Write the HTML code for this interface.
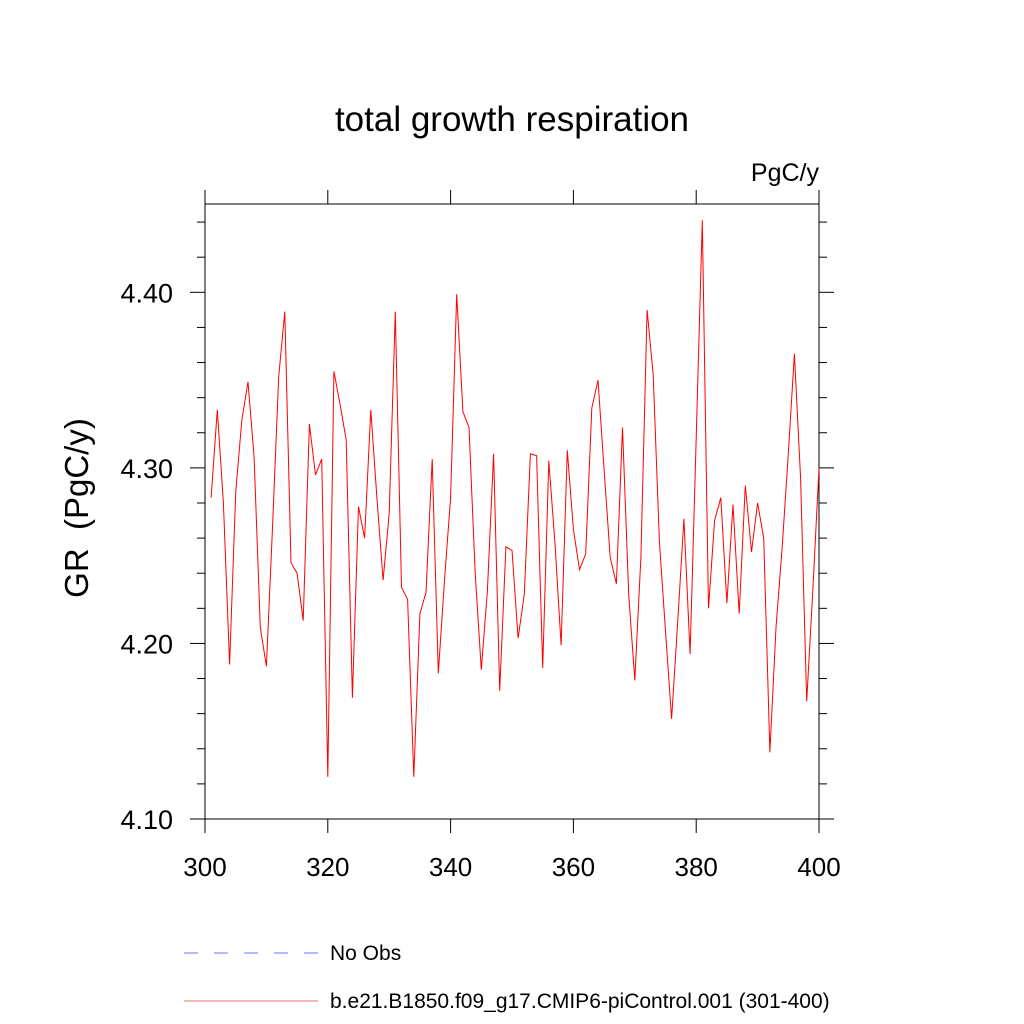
<!DOCTYPE html>
<html><head><meta charset="utf-8"><style>
html,body{margin:0;padding:0;background:#fff;}
svg{display:block;font-family:"Liberation Sans",sans-serif;}
</style></head><body>
<svg id="chart" width="1024" height="1024" viewBox="0 0 1024 1024">
<text x="512" y="131" font-size="35" text-anchor="middle">total growth respiration</text>
<text x="819" y="181" font-size="25" text-anchor="end">PgC/y</text>
<text transform="translate(88,508) rotate(-90)" font-size="33" text-anchor="middle" xml:space="preserve">GR  (PgC/y)</text>
<g id="axes"></g>
<g id="series"></g>
<g>
<line x1="184" y1="953" x2="318" y2="953" stroke="#7070ff" stroke-width="1" stroke-dasharray="14,16"/>
<text x="330" y="960" font-size="21">No Obs</text>
<line x1="184" y1="1001" x2="318" y2="1001" stroke="#e87070" stroke-width="1"/>
<text x="330" y="1008" font-size="21">b.e21.B1850.f09_g17.CMIP6-piControl.001 (301-400)</text>
</g>
</svg>
<script>
const years = [];
for (let y = 301; y <= 400; y++) years.push(y);
const values = [
4.283,4.333,4.280,4.188,4.286,4.327,4.349,4.306,4.209,4.187,
4.266,4.352,4.389,4.246,4.240,4.213,4.325,4.296,4.305,4.124,
4.355,4.336,4.316,4.169,4.278,4.260,4.333,4.283,4.236,4.274,
4.389,4.232,4.225,4.124,4.217,4.229,4.305,4.183,4.236,4.283,
4.399,4.332,4.323,4.240,4.185,4.230,4.308,4.173,4.255,4.253,
4.203,4.228,4.308,4.307,4.186,4.304,4.257,4.199,4.310,4.265,
4.242,4.251,4.334,4.350,4.299,4.249,4.234,4.323,4.228,4.179,
4.249,4.390,4.353,4.258,4.207,4.157,4.213,4.271,4.194,4.317,
4.441,4.220,4.270,4.283,4.223,4.279,4.217,4.290,4.252,4.280,
4.260,4.138,4.209,4.255,4.308,4.365,4.294,4.167,4.231,4.300];
const xTicks = [300,320,340,360,380,400];
const yTicks = [4.10,4.20,4.30,4.40];
const yMinor = [4.12,4.14,4.16,4.18,4.22,4.24,4.26,4.28,4.32,4.34,4.36,4.38,4.42,4.44];
const X0=205,X1=819,Y0=819,Y1=204;
const xMin=300,xMax=400,yMin=4.10,yMax=4.4503;
const xs=v=>X0+(v-xMin)/(xMax-xMin)*(X1-X0);
const ys=v=>Y0-(v-yMin)/(yMax-yMin)*(Y0-Y1);
const NS="http://www.w3.org/2000/svg";
const axes=document.getElementById('axes');
function ln(x1,y1,x2,y2,name,w){
  const l=document.createElementNS(NS,'line');
  l.setAttribute('x1',x1);l.setAttribute('y1',y1);l.setAttribute('x2',x2);l.setAttribute('y2',y2);
  l.setAttribute('stroke','#000');l.setAttribute('stroke-width',w||1);
  
  
  axes.appendChild(l);return l;
}
function tx(x,y,s,anchor,name,fs){
  const t=document.createElementNS(NS,'text');
  t.setAttribute('x',x);t.setAttribute('y',y);t.setAttribute('font-size',fs);t.setAttribute('text-anchor',anchor);
  t.textContent=s;
  
  
  axes.appendChild(t);
}
const fr=document.createElementNS(NS,'rect');
fr.setAttribute('x',X0);fr.setAttribute('y',Y1);fr.setAttribute('width',X1-X0);fr.setAttribute('height',Y0-Y1);
fr.setAttribute('fill','none');fr.setAttribute('stroke','#000');fr.setAttribute('stroke-width','1');


axes.appendChild(fr);
xTicks.forEach(v=>{
  const x=xs(v);
  ln(x,Y0,x,Y0+14,'x-tick');
  ln(x,Y1,x,Y1-14,'x-tick-top');
  tx(x,Y0+57,String(v),'middle','x-tick-label','26');
});
yTicks.forEach(v=>{
  const y=ys(v);
  ln(X0-15,y,X0,y,'y-tick');
  ln(X1,y,X1+15,y,'y-tick-right');
  tx(X0-32,y+10,v.toFixed(2),'end','y-tick-label','27');
});
yMinor.forEach(v=>{
  const y=ys(v);
  ln(X0-8,y,X0,y,'y-minor-tick');
  ln(X1,y,X1+8,y,'y-minor-tick-right');
});
const pl=document.createElementNS(NS,'polyline');
pl.setAttribute('points',years.map((yr,i)=>xs(yr).toFixed(1)+','+ys(values[i]).toFixed(1)).join(' '));
pl.setAttribute('fill','none');pl.setAttribute('stroke','#ff0000');pl.setAttribute('stroke-width','1');


document.getElementById('series').appendChild(pl);
</script>
</body></html>
